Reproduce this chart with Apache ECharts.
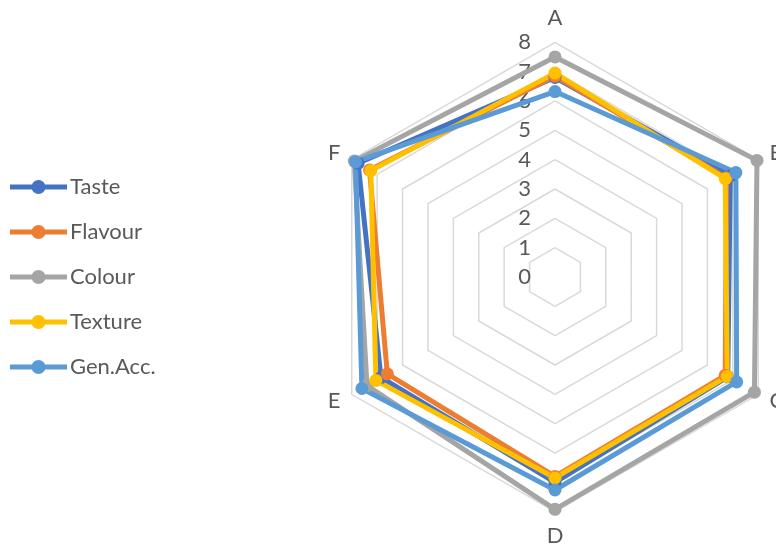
<!DOCTYPE html>
<html>
<head>
<meta charset="utf-8">
<script src="https://cdn.jsdelivr.net/npm/echarts@6/dist/echarts.min.js"></script>
<style>html,body{margin:0;padding:0;background:#fff}#c{width:776px;height:548px}</style>
</head>
<body>
<div id="c"></div>
<script>
// Categories (clockwise from top, as in the reference)
const categories = ['A', 'B', 'C', 'D', 'E', 'F'];
const tickLabels = ['0', '1', '2', '3', '4', '5', '6', '7', '8'];
const axisMax = 8;
const seriesNames = ['Taste', 'Flavour', 'Colour', 'Texture', 'Gen.Acc.'];
const taste   = [6.80, 6.90, 6.80, 7.00, 6.85, 7.75];
const flavour = [6.85, 6.75, 6.70, 6.80, 6.60, 7.30];
const colour  = [7.50, 7.95, 7.85, 7.92, 7.40, 7.90];
const texture = [6.95, 6.70, 6.78, 6.85, 7.05, 7.25];
const genAcc  = [6.32, 7.12, 7.15, 7.26, 7.60, 7.85];
const colors = ['#4472C4', '#ED7D31', '#A5A5A5', '#FFC000', '#5B9BD5'];

const allValues = [taste, flavour, colour, texture, genAcc];
// ECharts places indicators counter-clockwise; reorder to obtain clockwise A..F
const order = [0, 5, 4, 3, 2, 1];
const FONT = 'Lato, "DejaVu Sans", sans-serif';
const TEXT = '#595959';

const indicator = order.map((i, k) => {
  const ind = { name: categories[i], min: 0, max: axisMax, interval: 1 };
  if (k === 0) ind.axisLabel = { show: true };
  return ind;
});

const legendIcon = 'path://M0,4.5 L57,4.5 L57,9.5 L0,9.5 Z M21.5,7 A7,7 0 1 1 35.5,7 A7,7 0 1 1 21.5,7 Z';

const chart = echarts.init(document.getElementById('c'), null, { renderer: 'canvas' });
chart.setOption({
  animation: false,
  color: colors,
  textStyle: { fontFamily: FONT },
  legend: {
    orient: 'vertical',
    left: 5,
    top: 170,
    itemWidth: 57,
    itemHeight: 14,
    itemGap: 21,
    icon: legendIcon,
    textStyle: { fontFamily: FONT, fontSize: 22, color: TEXT, lineHeight: 24, padding: [0, 0, 0, -2] },
    data: seriesNames
  },
  radar: {
    center: [555, 277],
    radius: 234.7,
    startAngle: 90,
    shape: 'polygon',
    splitNumber: 8,
    axisName: { color: TEXT, fontSize: 22, fontFamily: FONT },
    nameGap: 13,
    axisLine: { show: false },
    axisTick: { show: false },
    axisLabel: {
      show: false,
      color: TEXT,
      fontSize: 22,
      fontFamily: FONT,
      margin: 24,
      formatter: v => tickLabels[Math.round(v)] ?? ''
    },
    splitLine: { lineStyle: { color: '#D9D9D9', width: 1.5 } },
    splitArea: { show: false },
    indicator: indicator
  },
  series: seriesNames.map((name, s) => ({
    type: 'radar',
    name: name,
    symbol: 'circle',
    symbolSize: 13,
    lineStyle: { width: 5, color: colors[s] },
    itemStyle: { color: colors[s] },
    data: [{ name: name, value: order.map(i => allValues[s][i]) }]
  }))
});
</script>
</body>
</html>
